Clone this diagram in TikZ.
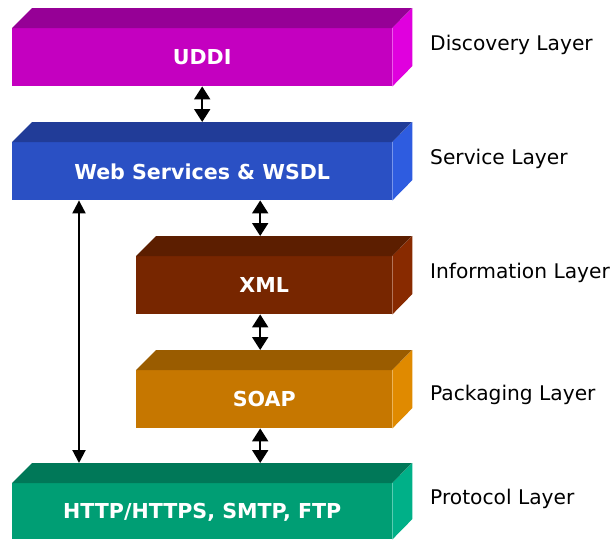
\documentclass[tikz,border=0pt]{standalone}
\usepackage{fontspec}
\setmainfont{DejaVu Sans}
\usetikzlibrary{arrows.meta,calc}
\definecolor{uddiF}{HTML}{C400C0}\definecolor{uddiT}{HTML}{960096}\definecolor{uddiR}{HTML}{E000DE}
\definecolor{wsF}{HTML}{2A50C4}\definecolor{wsT}{HTML}{213C98}\definecolor{wsR}{HTML}{2E5CE0}
\definecolor{xmlF}{HTML}{772600}\definecolor{xmlT}{HTML}{5C1E00}\definecolor{xmlR}{HTML}{882A00}
\definecolor{soapF}{HTML}{C67700}\definecolor{soapT}{HTML}{9A5C00}\definecolor{soapR}{HTML}{E08A00}
\definecolor{httpF}{HTML}{009E74}\definecolor{httpT}{HTML}{007858}\definecolor{httpR}{HTML}{00B088}
\tikzset{
  frontface/.style={anchor=north west, inner sep=0pt, text=white, text depth=0pt,
    font=\fontsize{20.6}{24}\selectfont\bfseries},
  layerlbl/.style={anchor=base west, inner sep=0pt, font=\fontsize{20.2}{24}\selectfont},
  dblarr/.style={line width=2pt, {Triangle[width=16pt,length=13pt]}-{Triangle[width=16pt,length=13pt]}},
  longarr/.style={line width=2pt, {Triangle[width=13pt,length=13pt]}-{Triangle[width=13pt,length=13pt]}}
}
\begin{document}
\begin{tikzpicture}[x=1pt,y=-1pt]
\useasboundingbox (0,0) rectangle (616,539);
% UDDI
\node[frontface, fill=uddiF, minimum width=380pt, minimum height=58pt] (uddi) at (12,28) {UDDI};
\fill[uddiT] (uddi.north west) -- ++(20,-20) -- ++(380,0) -- (uddi.north east) -- cycle;
\fill[uddiR] (uddi.north east) -- ++(20,-20) -- ++(0,58) -- (uddi.south east) -- cycle;
% Web services
\node[frontface, fill=wsF, minimum width=380pt, minimum height=58pt] (ws) at (12,142) {Web Services \& WSDL};
\fill[wsT] (ws.north west) -- ++(20,-20) -- ++(380,0) -- (ws.north east) -- cycle;
\fill[wsR] (ws.north east) -- ++(20,-20) -- ++(0,58) -- (ws.south east) -- cycle;
% XML
\node[frontface, fill=xmlF, minimum width=256pt, minimum height=58pt] (xml) at (136,256) {XML};
\fill[xmlT] (xml.north west) -- ++(20,-20) -- ++(256,0) -- (xml.north east) -- cycle;
\fill[xmlR] (xml.north east) -- ++(20,-20) -- ++(0,58) -- (xml.south east) -- cycle;
% SOAP
\node[frontface, fill=soapF, minimum width=256pt, minimum height=58pt] (soap) at (136,370) {SOAP};
\fill[soapT] (soap.north west) -- ++(20,-20) -- ++(256,0) -- (soap.north east) -- cycle;
\fill[soapR] (soap.north east) -- ++(20,-20) -- ++(0,58) -- (soap.south east) -- cycle;
% HTTP
\node[frontface, fill=httpF, minimum width=380pt, minimum height=56pt] (http) at (12,483) {HTTP/HTTPS, SMTP, FTP};
\fill[httpT] (http.north west) -- ++(20,-20) -- ++(380,0) -- (http.north east) -- cycle;
\fill[httpR] (http.north east) -- ++(20,-20) -- ++(0,56) -- (http.south east) -- cycle;
% arrows
\draw[dblarr] (uddi.south) -- ([yshift=20pt]ws.north);
\draw[dblarr] ([xshift=58pt]ws.south) -- ([xshift=-4pt,yshift=20pt]xml.north);
\draw[dblarr] ([xshift=-4pt]xml.south) -- ([xshift=-4pt,yshift=20pt]soap.north);
\draw[dblarr] ([xshift=-4pt]soap.south) -- ([xshift=58pt,yshift=20pt]http.north);
\draw[longarr] ([xshift=67pt]ws.south west) -- ([xshift=67pt,yshift=20pt]http.north west);
% layer labels
\node[layerlbl] (l1) at (430,50.5) {Discovery Layer};
\node[layerlbl] (l2) at (430,164) {Service Layer};
\node[layerlbl] (l3) at (430,278) {Information Layer};
\node[layerlbl] (l4) at (430,400) {Packaging Layer};
\node[layerlbl] (l5) at (430,504) {Protocol Layer};
\end{tikzpicture}
\end{document}
